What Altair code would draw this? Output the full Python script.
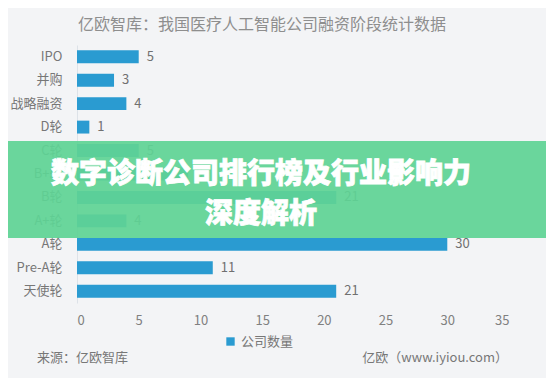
import altair as alt
import pandas as pd

categories = ["IPO", "并购", "战略融资", "D轮", "C轮", "B+轮", "B轮", "A+轮", "A轮", "Pre-A轮", "天使轮"]
values = [5, 3, 4, 1, 5, 9, 21, 4, 30, 11, 21]
series_name = "公司数量"
title_text = "亿欧智库：我国医疗人工智能公司融资阶段统计数据"
banner_lines = ["数字诊断公司排行榜及行业影响力", "深度解析"]
source_text = "来源：亿欧智库"
site_text = "亿欧（www.iyiou.com）"
x_ticks = [0, 5, 10, 15, 20, 25, 30, 35]

df = pd.DataFrame({"stage": categories, "count": values, "series": [series_name] * len(categories)})

FONT = "Noto Sans CJK SC"
W, H = 432, 258
PL, PT = 69, 37
PR = 554 - 16 - PL - W
PB = 388 - 16 - PT - H - 2

x_scale = alt.Scale(domain=[0, 35], nice=False, zero=True)
y_scale = alt.Scale(domain=categories, paddingInner=0.45, paddingOuter=0.225)

bars = alt.Chart(df).mark_bar(color="#2a9bd1").encode(
    x=alt.X("count:Q", scale=x_scale,
            axis=alt.Axis(values=x_ticks, title=None, grid=False, ticks=False, domain=False,
                          labelColor="#808080", labelFont=FONT, labelFontSize=13, labelPadding=11)),
    y=alt.Y("stage:N", scale=y_scale, sort=categories,
            axis=alt.Axis(title=None, ticks=False, domainColor="#dde2e8", labelColor="#777",
                          labelFont=FONT, labelFontSize=13, labelPadding=15)),
    color=alt.Color("series:N", scale=alt.Scale(range=["#2a9bd1"]),
                    legend=alt.Legend(title=None, orient="none", legendX=147, legendY=290,
                                      symbolType="square", symbolSize=70, labelFont=FONT,
                                      labelFontSize=13, labelColor="#777", symbolStrokeWidth=0)),
)

labels = alt.Chart(df).mark_text(align="left", dx=8, font=FONT, fontSize=13, color="#707070").encode(
    x=alt.X("count:Q", scale=x_scale),
    y=alt.Y("stage:N", scale=y_scale, sort=categories),
    text="count:Q",
)

title_df = pd.DataFrame({"t": [title_text]})
title = alt.Chart(title_df).mark_text(font=FONT, fontSize=16, color="#8e8e8e", align="center", baseline="middle").encode(
    x=alt.value(185), y=alt.value(-20), text="t:N")

foot_df = pd.DataFrame({"t": [source_text]})
foot_l = alt.Chart(foot_df).mark_text(font=FONT, fontSize=13, color="#777", align="left", baseline="middle").encode(
    x=alt.value(37 - 77), y=alt.value(313), text="t:N")
site_df = pd.DataFrame({"t": [site_text]})
foot_r = alt.Chart(site_df).mark_text(font=FONT, fontSize=13, color="#777", align="right", baseline="middle").encode(
    x=alt.value(508 - 77), y=alt.value(313), text="t:N")

banner_df = pd.DataFrame({"k": ["b"]})
banner = alt.Chart(banner_df).mark_rect(color="#5fd394", opacity=0.93).encode(
    x=alt.value(-PL), x2=alt.value(W + PR), y=alt.value(96), y2=alt.value(193))

btxt_df = pd.DataFrame({"t": banner_lines, "yy": [130, 170]})
btxt = alt.Chart(btxt_df).mark_text(font=FONT, fontSize=28, fontWeight=900, color="white",
                                    stroke="white", strokeWidth=0.8,
                                    align="center", baseline="middle").encode(
    x=alt.value(184), y=alt.Y("yy:Q", scale=None), text="t:N")

chart = alt.layer(bars, labels, title, foot_l, foot_r, banner, btxt).properties(
    width=W, height=H,
    padding={"left": PL, "top": PT, "right": PR, "bottom": PB},
    autosize=alt.AutoSizeParams(type="none"),
    background="#f3f4f6",
).configure_view(stroke=None)

chart.save("out.html", embed_options={"renderer": "svg", "actions": False})
